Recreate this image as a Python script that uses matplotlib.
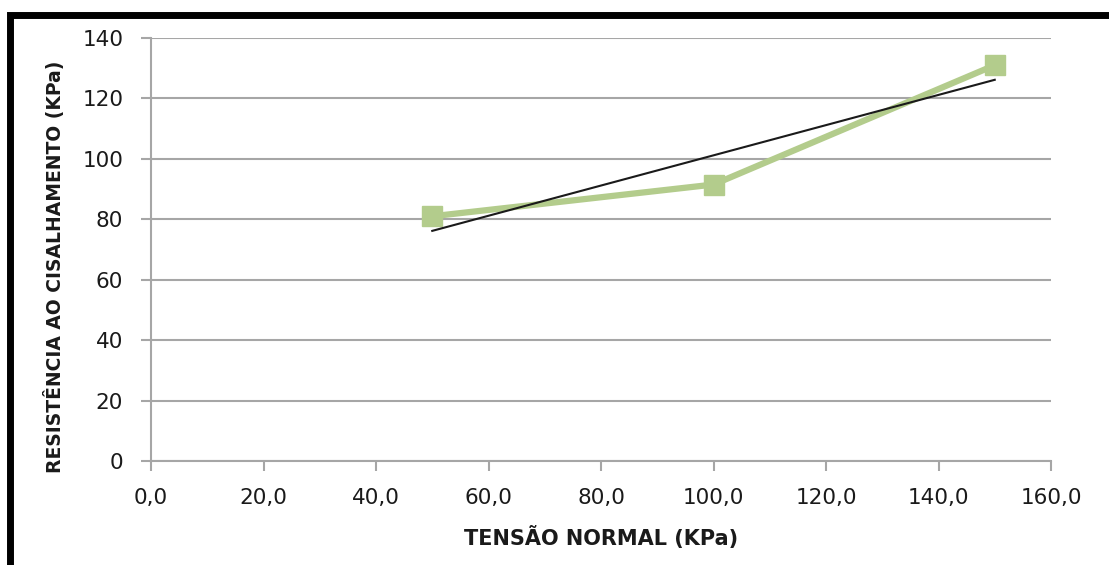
import matplotlib
matplotlib.use("Agg")
import matplotlib.pyplot as plt
import numpy as np
from matplotlib.patches import Rectangle

# Data
tensao_normal = [50, 100, 150]
resistencia = [81, 91.5, 131]
x_ticks = [0, 20, 40, 60, 80, 100, 120, 140, 160]
y_ticks = [0, 20, 40, 60, 80, 100, 120, 140]
x_label = "TENSÃO NORMAL (KPa)"
y_label = "RESISTÊNCIA AO CISALHAMENTO (KPa)"

W, H = 1109, 565
fig = plt.figure(figsize=(W / 100, H / 100), dpi=100)
fig.patch.set_facecolor("white")

ax = fig.add_axes([151 / W, 1 - 461 / H, 900 / W, 423 / H])
ax.set_xlim(0, 160)
ax.set_ylim(0, 140)

grid_c = "#a6a6a6"
ax.set_xticks(x_ticks)
ax.set_yticks(y_ticks)
ax.set_xticklabels([f"{v:.1f}".replace(".", ",") for v in x_ticks])
ax.set_yticklabels([str(v) for v in y_ticks])
ax.yaxis.grid(True, color=grid_c, linewidth=1.5)
ax.set_axisbelow(True)
for s in ["top", "right"]:
    ax.spines[s].set_visible(False)
for s in ["left", "bottom"]:
    ax.spines[s].set_color(grid_c)
    ax.spines[s].set_linewidth(1.5)
ax.tick_params(axis="both", direction="out", length=7, width=1.5, color=grid_c,
               labelsize=15.5, labelcolor="#1a1a1a")
ax.tick_params(axis="x", pad=12.5)
ax.tick_params(axis="y", pad=13)

ax.plot(tensao_normal, resistencia, color="#b3cc8c", linewidth=4.5, marker="s",
        markersize=15, markerfacecolor="#b3cc8c", markeredgecolor="#b3cc8c",
        solid_joinstyle="miter", zorder=3)

coef = np.polyfit(tensao_normal, resistencia, 1)
xt = np.array([tensao_normal[0], tensao_normal[-1]])
ax.plot(xt, np.polyval(coef, xt), color="#1a1a1a", linewidth=1.5, zorder=4)

ax.set_xlabel(x_label, fontsize=15, fontweight="bold", color="#1a1a1a", labelpad=13)
ax.set_ylabel(y_label, fontsize=13.5, fontweight="bold", color="#1a1a1a",
              va="center", ha="center")
ax.yaxis.set_label_coords(-0.107, 0.46)

# outer frame (cut at right and bottom)
fig.patches.append(Rectangle((10 / W, -0.2), 1.2, 1 - 15 / H + 0.2,
                             transform=fig.transFigure, fill=False,
                             edgecolor="black", linewidth=5, clip_on=False))

fig.savefig("out.png", dpi=100)
